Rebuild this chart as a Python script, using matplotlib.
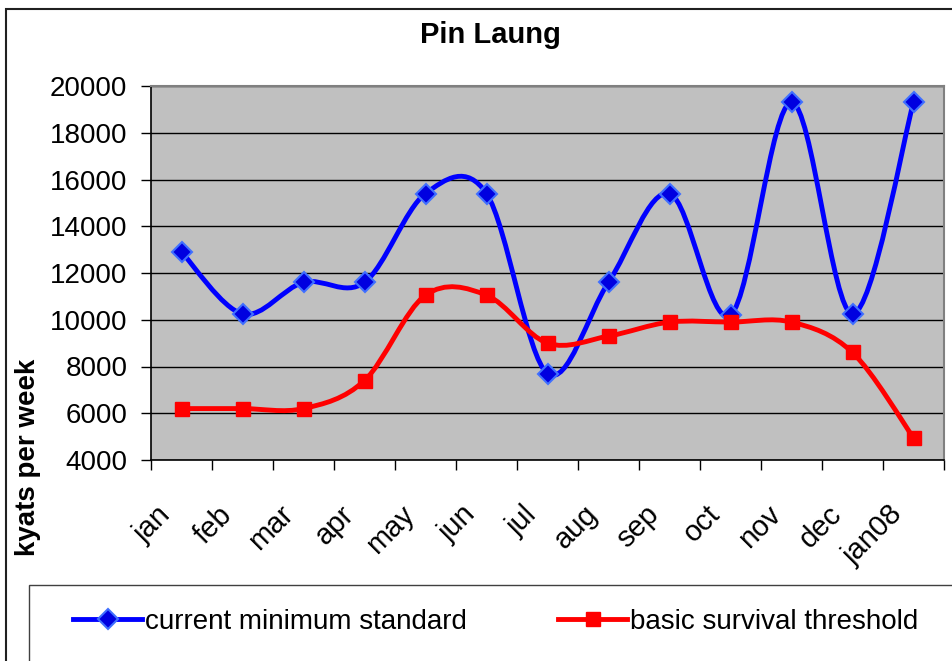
import numpy as np
import matplotlib.pyplot as plt
from matplotlib.path import Path
from matplotlib.patches import PathPatch, Rectangle
from matplotlib.lines import Line2D
from matplotlib.transforms import ScaledTranslation

plt.rcParams['font.family'] = ['Liberation Sans', 'DejaVu Sans']

months = ["jan", "feb", "mar", "apr", "may", "jun", "jul", "aug", "sep",
          "oct", "nov", "dec", "jan08"]
current_min = [12900, 10250, 11600, 11600, 15400, 15400, 7700, 11600, 15400,
               10200, 19300, 10250, 19300]
survival = [6200, 6200, 6200, 7400, 11050, 11050, 9000, 9300, 9900,
            9900, 9900, 8600, 4950]

blue = '#0000FF'
red = '#FF0000'


def smooth_path(x, y):
    # excel style smoothed line: bezier segments through every point
    pts = np.column_stack([x, y]).astype(float)
    n = len(pts)
    verts = [pts[0]]
    codes = [Path.MOVETO]
    for i in range(n - 1):
        p0 = pts[max(i - 1, 0)]
        p1 = pts[i]
        p2 = pts[i + 1]
        p3 = pts[min(i + 2, n - 1)]
        verts += [p1 + (p2 - p0) / 6, p2 - (p3 - p1) / 6, p2]
        codes += [Path.CURVE4] * 3
    return Path(verts, codes)


fig = plt.figure(figsize=(9.52, 6.61), dpi=100)
ax = fig.add_axes([151/952, 1-460/661, 793/952, 374/661])
ax.set_facecolor('#C0C0C0')

x = np.arange(len(months))

ax.add_patch(PathPatch(smooth_path(x, current_min), facecolor='none',
                       edgecolor=blue, lw=3.5, capstyle='round', zorder=3))
ax.add_patch(PathPatch(smooth_path(x, survival), facecolor='none',
                       edgecolor=red, lw=3.5, capstyle='round', zorder=3))
ax.plot(x, current_min, ls='none', marker='D', ms=10, mfc='#0000E0',
        mec='#4070FF', mew=1.5, zorder=4)
ax.plot(x, survival, ls='none', marker='s', ms=10.5, mfc=red, mec=red, zorder=4)

ax.set_xlim(-0.5, len(months) - 0.5)
ax.set_ylim(4000, 20000)
ax.set_yticks(np.arange(4000, 20001, 2000))
ax.yaxis.grid(True, color='#000000', lw=1)
ax.set_axisbelow(True)

ax.set_xticks(x)
ax.set_xticks(np.arange(-0.5, len(months), 1), minor=True)
ax.set_xticklabels(months, rotation=45, ha='right', va='top',
                   rotation_mode='anchor')
ax.tick_params(axis='x', which='major', length=0, pad=29, labelsize=21)
ax.tick_params(axis='x', which='minor', length=7, width=1, color='black',
               direction='out')
ax.tick_params(axis='y', length=7, width=1, color='black', pad=10,
               labelsize=20)
for lab in ax.get_xticklabels():
    lab.set_transform(lab.get_transform() +
                      ScaledTranslation(-0.25, 0, fig.dpi_scale_trans))

for s in ['left', 'bottom']:
    ax.spines[s].set_color('black')
    ax.spines[s].set_linewidth(1.2)
for s in ['top', 'right']:
    ax.spines[s].set_color('#808080')
    ax.spines[s].set_linewidth(1.5)

fig.text(490/952, 1-35/661, 'Pin Laung', ha='center', va='center',
         fontsize=21, fontweight='bold')
fig.text(28/952, 1-457/661, 'kyats per week', ha='center', va='center',
         rotation=90, fontsize=20, fontweight='bold')

# outer chart border and legend box
fig.patches.append(Rectangle((6/952, -0.5), 2, 1 - 9/661 + 0.5,
                             transform=fig.transFigure, fill=False,
                             ec='#202020', lw=1.5))
fig.patches.append(Rectangle((29/952, -0.5), 2, 1 - 585/661 + 0.5,
                             transform=fig.transFigure, fill=False,
                             ec='#404040', lw=1))

h_blue = Line2D([], [], color=blue, lw=3.5, marker='D', ms=10, mfc='#0000E0',
                mec='#4070FF', mew=1.5)
h_red = Line2D([], [], color=red, lw=3.5, marker='s', ms=10.5, mfc=red, mec=red)
for h, lab, x0 in [(h_blue, 'current minimum standard', 73),
                   (h_red, 'basic survival threshold', 558)]:
    fig.legend([h], [lab], loc='center left',
               bbox_to_anchor=(x0/952, 1-622/661), frameon=False,
               borderpad=0, borderaxespad=0, handlelength=2.5,
               handletextpad=0.1, fontsize=20)

fig.savefig('out.png', dpi=100)
